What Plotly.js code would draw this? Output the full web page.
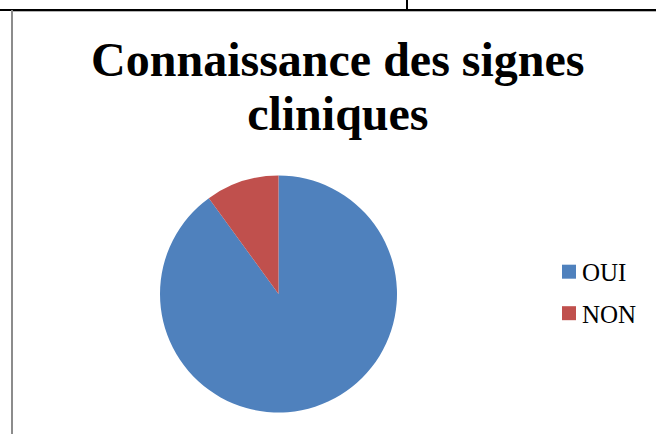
<!DOCTYPE html>
<html>
<head>
<meta charset="utf-8">
<script src="https://cdn.plot.ly/plotly-3.0.1.min.js"></script>
<style>
  html, body { margin: 0; padding: 0; background: #fff; }
  #wrap { position: relative; width: 656px; height: 434px; overflow: hidden; }
  #chart { position: absolute; left: 0; top: 0; width: 656px; height: 434px; }
  .deco { position: absolute; pointer-events: none; }
</style>
</head>
<body>
<div id="wrap">
  <div id="chart"></div>
  <div class="deco" style="left:0;top:9px;width:656px;height:2px;background:#000;"></div>
  <div class="deco" style="left:406px;top:0;width:2px;height:10px;background:#000;"></div>
  <div class="deco" style="left:11px;top:10px;width:2px;height:424px;background:#8c8c8c;"></div>
  <div class="deco" style="left:13px;top:11px;width:643px;height:1px;background:#b4b4b4;"></div>
</div>
<script>
const chartTitle = "Connaissance des signes<br>cliniques";
const categories = ["OUI", "NON"];
const values = [90, 10];
const colors = ["#4F81BD", "#C0504D"];

const serif = "Liberation Serif";

const data = [{
  type: "pie",
  labels: categories,
  values: values,
  sort: false,
  direction: "clockwise",
  rotation: 0,
  textinfo: "none",
  hoverinfo: "label+value",
  marker: { colors: colors, line: { width: 0 } },
  domain: { x: [0, 1], y: [0, 1] }
}];

const layout = {
  width: 656,
  height: 434,
  margin: { l: 160, r: 256, t: 174, b: 20, pad: 0 },
  paper_bgcolor: "#ffffff",
  plot_bgcolor: "#ffffff",
  font: { family: serif, color: "#000", size: 25 },
  title: {
    text: chartTitle,
    font: { family: serif, size: 48, color: "#000", weight: "bold" },
    x: 0.515, xanchor: "center", xref: "container",
    y: 1 - 76 / 434, yanchor: "top", yref: "container"
  },
  showlegend: true,
  legend: {
    x: 1.62, xanchor: "left",
    y: 0.519, yanchor: "middle",
    font: { family: serif, size: 25, color: "#000" },
    bgcolor: "rgba(0,0,0,0)"
  }
};

Plotly.newPlot("chart", data, layout, { staticPlot: true, displayModeBar: false }).then(function (gd) {
  // tighten title line spacing to match reference
  gd.querySelectorAll(".gtitle tspan.line").forEach(function (t, i) {
    if (i > 0) t.setAttribute("dy", "1.13em");
  });
  // legend: wider row spacing, text closer to the swatch, larger swatch
  const items = gd.querySelectorAll(".legend .traces");
  items.forEach(function (g, i) {
    const m = /translate\(([-\d.]+),\s*([-\d.]+)\)/.exec(g.getAttribute("transform") || "");
    if (m && i > 0) {
      g.setAttribute("transform", "translate(" + m[1] + "," + (parseFloat(m[2]) + 6 * i) + ")");
    }
    const txt = g.querySelector("text.legendtext");
    if (txt) txt.setAttribute("x", "33");
    const sw = g.querySelector("path.legendpie");
    if (sw) sw.setAttribute("d", "M7,7H-7V-7H7Z");
  });
  // place legend block so the swatches start where the reference has them
  const leg = gd.querySelector(".legend");
  const firstSw = gd.querySelector(".legend path.legendpie");
  if (leg && firstSw) {
    const box = gd.getBoundingClientRect();
    const dx = 562 - (firstSw.getBoundingClientRect().left - box.left);
    const m = /translate\(([-\d.]+),\s*([-\d.]+)\)/.exec(leg.getAttribute("transform") || "");
    if (m) leg.setAttribute("transform", "translate(" + (parseFloat(m[1]) + dx) + "," + m[2] + ")");
  }
});
</script>
</body>
</html>
